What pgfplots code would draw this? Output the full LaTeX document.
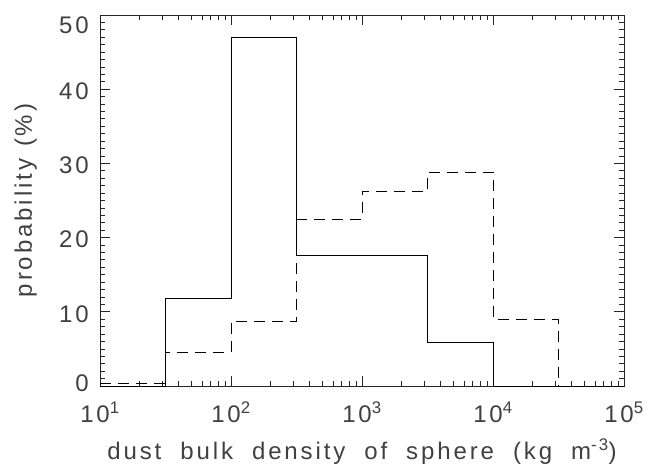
\documentclass[border=0pt]{standalone}
\usepackage{fontspec}
\setmainfont{Liberation Sans}[LetterSpace=12]
\usepackage{pgfplots}
\pgfplotsset{compat=1.18}
\newcommand\tp[1]{10\textsuperscript{#1}}
\newcommand\fs{\fontsize{24}{28}\selectfont\spaceskip=12pt\relax}
\newcommand\fsx{\fontsize{24}{28}\selectfont\spaceskip=19pt\relax}
\begin{document}
\begin{tikzpicture}
\begin{axis}[
  scale only axis, width=524pt, height=371pt,
  xmode=log, xmin=10, xmax=1e5, ymin=0, ymax=50,
  xtick={10,100,1000,10000,100000},
  xticklabels={\tp{1},\tp{2},\tp{3},\tp{4},\tp{5}},
  minor xtick={20,30,40,50,60,70,80,90,200,300,400,500,600,700,800,900,2000,3000,4000,5000,6000,7000,8000,9000,20000,30000,40000,50000,60000,70000,80000,90000},
  ytick={0,10,20,30,40,50},
  yticklabels={\raisebox{5pt}[\height][\depth]{0},10,20,30,40,\raisebox{-8pt}[\height][\depth]{50}},
  minor y tick num=9,
  tick align=inside,
  major tick length=10pt, minor tick length=5pt,
  tick style={black!85, line width=0.8pt},
  axis line style={black!85, line width=0.9pt},
  xticklabel style={font=\fs, text=black!75, inner sep=0pt, anchor=north, yshift=-16pt},
  yticklabel style={font=\fs, text=black!75, inner sep=0pt, anchor=east, xshift=-11pt, yshift=-2pt},
  xlabel={dust bulk density of sphere (kg m\textsuperscript{-3})},
  ylabel={probability (\%)},
  xlabel style={font=\fsx, text=black!75, at={(axis description cs:0.5,-0.178)}, anchor=center},
  ylabel style={font=\fs, text=black!75, at={(axis description cs:-0.142,0.5)}, anchor=center},
]
\addplot[const plot, black, line width=0.9pt] coordinates {
  (10,0) (31.62,11.8) (100,47.0) (316.2,17.6) (1000,17.6) (3162,5.9) (10000,0) (100000,0)};
\addplot[const plot, black, line width=0.9pt, dash pattern=on 11pt off 7pt] coordinates {
  (10,0.35) (31.62,4.5) (100,8.65) (316.2,22.5) (1000,26.2) (3162,28.8) (10000,9.0) (31623,0) (100000,0)};
\end{axis}
\path (current axis.south west) ++(-100pt,-80pt) rectangle ++(649pt,466pt);
\end{tikzpicture}
\end{document}
